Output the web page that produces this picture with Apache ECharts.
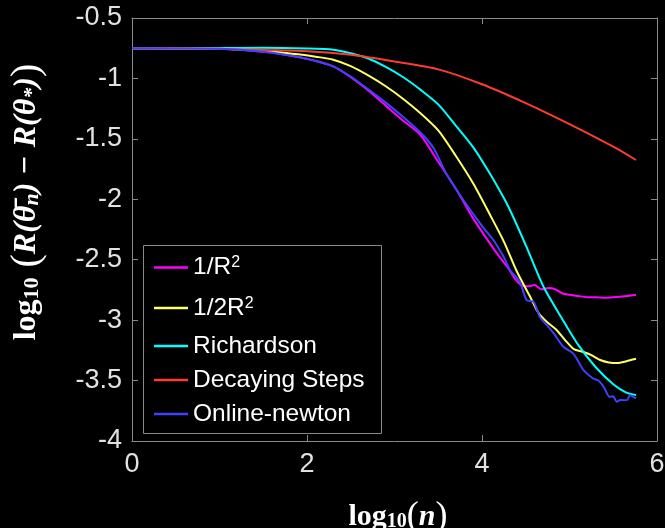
<!DOCTYPE html>
<html>
<head>
<meta charset="utf-8">
<script src="https://cdn.jsdelivr.net/npm/echarts@6/dist/echarts.min.js"></script>
<style>
html,body{margin:0;padding:0;background:#000;}
#chart{width:665px;height:528px;}
</style>
</head>
<body>
<div id="chart"></div>
<script>
// ---- data ----
const seriesNames = ['1/R2', '1/2R2', 'Richardson', 'Decaying Steps', 'Online-newton'];

const invR2X = [0, 1, 1.5, 1.9, 2.1, 2.3, 2.5, 2.7, 2.9, 3.1, 3.3, 3.5, 3.7, 3.9, 4.1, 4.2, 4.3, 4.38, 4.45, 4.52, 4.6, 4.68, 4.76, 4.84, 4.92, 5.0, 5.1, 5.2, 5.3, 5.4, 5.5, 5.6, 5.76];
const invR2Y = [-0.75, -0.755, -0.78, -0.822, -0.855, -0.90, -0.99, -1.10, -1.225, -1.35, -1.47, -1.69, -1.91, -2.16, -2.375, -2.477, -2.57, -2.66, -2.71, -2.72, -2.71, -2.745, -2.735, -2.745, -2.78, -2.79, -2.80, -2.81, -2.81, -2.815, -2.81, -2.805, -2.79];

const halfR2X = [0, 1, 1.5, 1.9, 2.1, 2.3, 2.5, 2.7, 2.9, 3.1, 3.3, 3.5, 3.7, 3.9, 4.1, 4.25, 4.4, 4.55, 4.65, 4.75, 4.85, 4.95, 5.05, 5.15, 5.25, 5.35, 5.45, 5.55, 5.65, 5.76];
const halfR2Y = [-0.75, -0.755, -0.77, -0.80, -0.82, -0.845, -0.898, -0.975, -1.065, -1.17, -1.29, -1.43, -1.64, -1.87, -2.14, -2.35, -2.60, -2.806, -2.945, -3.02, -3.08, -3.165, -3.24, -3.262, -3.29, -3.33, -3.35, -3.355, -3.34, -3.32];

const richardsonX = [0, 1, 1.5, 2, 2.3, 2.5, 2.7, 2.9, 3.1, 3.3, 3.5, 3.7, 3.9, 4.1, 4.3, 4.5, 4.7, 4.9, 5.1, 5.3, 5.5, 5.65, 5.76];
const richardsonY = [-0.75, -0.748, -0.747, -0.753, -0.763, -0.792, -0.835, -0.905, -0.99, -1.095, -1.215, -1.39, -1.57, -1.80, -2.06, -2.38, -2.72, -2.97, -3.205, -3.39, -3.53, -3.60, -3.62];

const decayingX = [0, 0.5, 1, 1.5, 2, 2.5, 3, 3.5, 4, 4.5, 5, 5.5, 5.76];
const decayingY = [-0.75, -0.75, -0.755, -0.765, -0.775, -0.805, -0.86, -0.925, -1.048, -1.204, -1.378, -1.565, -1.675];

const newtonX = [0, 1, 1.5, 1.9, 2.1, 2.3, 2.5, 2.7, 2.9, 3.1, 3.3, 3.45, 3.6, 3.8, 4.0, 4.13, 4.25, 4.32, 4.43, 4.51, 4.59, 4.66, 4.74, 4.82, 4.93, 5.04, 5.1, 5.16, 5.27, 5.33, 5.39, 5.46, 5.5, 5.54, 5.58, 5.62, 5.66, 5.69, 5.72, 5.76];
const newtonY = [-0.75, -0.755, -0.78, -0.822, -0.855, -0.90, -0.984, -1.09, -1.20, -1.32, -1.45, -1.58, -1.80, -2.02, -2.22, -2.337, -2.48, -2.585, -2.68, -2.834, -2.848, -2.972, -3.04, -3.11, -3.22, -3.275, -3.34, -3.414, -3.483, -3.50, -3.552, -3.635, -3.63, -3.676, -3.66, -3.662, -3.66, -3.621, -3.63, -3.648];

const xTicks = [0, 2, 4, 6];
const yTicks = [-4, -3.5, -3, -2.5, -2, -1.5, -1, -0.5];

const colors = ['#ff00ff', '#ffff66', '#00ffff', '#ff3b30', '#4040ff'];
// -----------------------------------------------

function zip(xs, ys) { return xs.map((x, i) => [x, ys[i]]); }
const seriesData = [
  zip(invR2X, invR2Y),
  zip(halfR2X, halfR2Y),
  zip(richardsonX, richardsonY),
  zip(decayingX, decayingY),
  zip(newtonX, newtonY)
];

const axisGray = '#8a8a8a';
const labelColor = '#e2e2e2';
const sans = 'Liberation Sans, Arial, sans-serif';
const serif = 'Liberation Serif, DejaVu Serif, serif';

const chart = echarts.init(document.getElementById('chart'), null, {renderer: 'canvas'});

function axisCommon(min, max, interval, pos, showLabel) {
  return {
    type: 'value', min: min, max: max, interval: interval, position: pos,
    axisLine: {show: true, onZero: false, lineStyle: {color: axisGray, width: 1}},
    axisTick: {show: true, inside: true, length: 6, lineStyle: {color: axisGray, width: 1}},
    axisLabel: {show: showLabel, color: labelColor, fontSize: 27, fontFamily: sans, margin: 10},
    splitLine: {show: false}
  };
}

const legendRich = {
  t: {fontSize: 24.5, fontFamily: sans, color: '#fff'},
  sup: {fontSize: 16, fontFamily: sans, color: '#fff', verticalAlign: 'top'}
};

function legendFormatter(name) {
  if (name === '1/R2') return '{t|1/R}{sup|2}';
  if (name === '1/2R2') return '{t|1/2R}{sup|2}';
  return '{t|' + name + '}';
}

function legendPart(names, top, gap) {
  return {
    orient: 'vertical', left: 143, top: top,
    padding: [0, 16, 0, 11],
    icon: 'rect',
    itemWidth: 34, itemHeight: 2.5, itemGap: gap,
    backgroundColor: 'transparent', borderWidth: 0,
    data: names,
    formatter: legendFormatter,
    textStyle: {color: '#fff', fontSize: 24.5, fontFamily: sans, rich: legendRich}
  };
}

const option = {
  backgroundColor: '#000',
  animation: false,
  grid: {left: 132, right: 8, top: 18, bottom: 87, containLabel: false, outerBoundsMode: 'none'},
  xAxis: [
    axisCommon(xTicks[0], xTicks[xTicks.length - 1], xTicks[1] - xTicks[0], 'bottom', true),
    axisCommon(xTicks[0], xTicks[xTicks.length - 1], xTicks[1] - xTicks[0], 'top', false)
  ],
  yAxis: [
    axisCommon(yTicks[0], yTicks[yTicks.length - 1], yTicks[1] - yTicks[0], 'left', true),
    axisCommon(yTicks[0], yTicks[yTicks.length - 1], yTicks[1] - yTicks[0], 'right', false)
  ],
  legend: [
    legendPart(seriesNames.slice(0, 2), 255, 15.5),
    legendPart(seriesNames.slice(2), 333.5, 9)
  ],
  series: seriesNames.map((n, i) => ({
    name: n, type: 'line', data: seriesData[i],
    xAxisIndex: 0, yAxisIndex: 0, z: 2,
    showSymbol: false, symbol: 'none', smooth: 0.25,
    lineStyle: {color: colors[i], width: 2},
    itemStyle: {color: colors[i]},
    emphasis: {disabled: true}
  })),
  graphic: [
    {
      type: 'rect', z: 3, zlevel: 0,
      shape: {x: 143.5, y: 245.5, width: 238, height: 188},
      style: {fill: '#000', stroke: axisGray, lineWidth: 1}
    },
    {
      type: 'text', x: 27, y: 202, rotation: Math.PI / 2,
      style: {
        text: '{lg|log}{sub|10}{par| (}{it|R(θ̄}{sb|n}{it|) − R(θ}{sb|*}{it|)}{par|)}',
        align: 'center', verticalAlign: 'middle', fill: '#fff',
        rich: {
          lg: {fontFamily: serif, fontWeight: 'bold', fontSize: 32, fill: '#fff'},
          sub: {fontFamily: serif, fontWeight: 'bold', fontSize: 22, fill: '#fff', padding: [11, 0, 0, 0]},
          par: {fontFamily: serif, fontSize: 40, fill: '#fff'},
          it: {fontFamily: serif, fontStyle: 'italic', fontWeight: 'bold', fontSize: 32, fill: '#fff'},
          sb: {fontFamily: serif, fontStyle: 'italic', fontWeight: 'bold', fontSize: 22, fill: '#fff', padding: [11, 0, 0, 0]}
        }
      }
    },
    {
      type: 'text', x: 398, y: 517,
      style: {
        text: '{lg|log}{sub|10}{par|(}{it|n}{par|)}',
        align: 'center', verticalAlign: 'middle', fill: '#fff',
        rich: {
          lg: {fontFamily: serif, fontWeight: 'bold', fontSize: 30, fill: '#fff'},
          sub: {fontFamily: serif, fontWeight: 'bold', fontSize: 20, fill: '#fff', padding: [10, 0, 0, 0]},
          par: {fontFamily: serif, fontSize: 36, fill: '#fff'},
          it: {fontFamily: serif, fontStyle: 'italic', fontWeight: 'bold', fontSize: 30, fill: '#fff'}
        }
      }
    }
  ]
};
chart.setOption(option);
</script>
</body>
</html>
